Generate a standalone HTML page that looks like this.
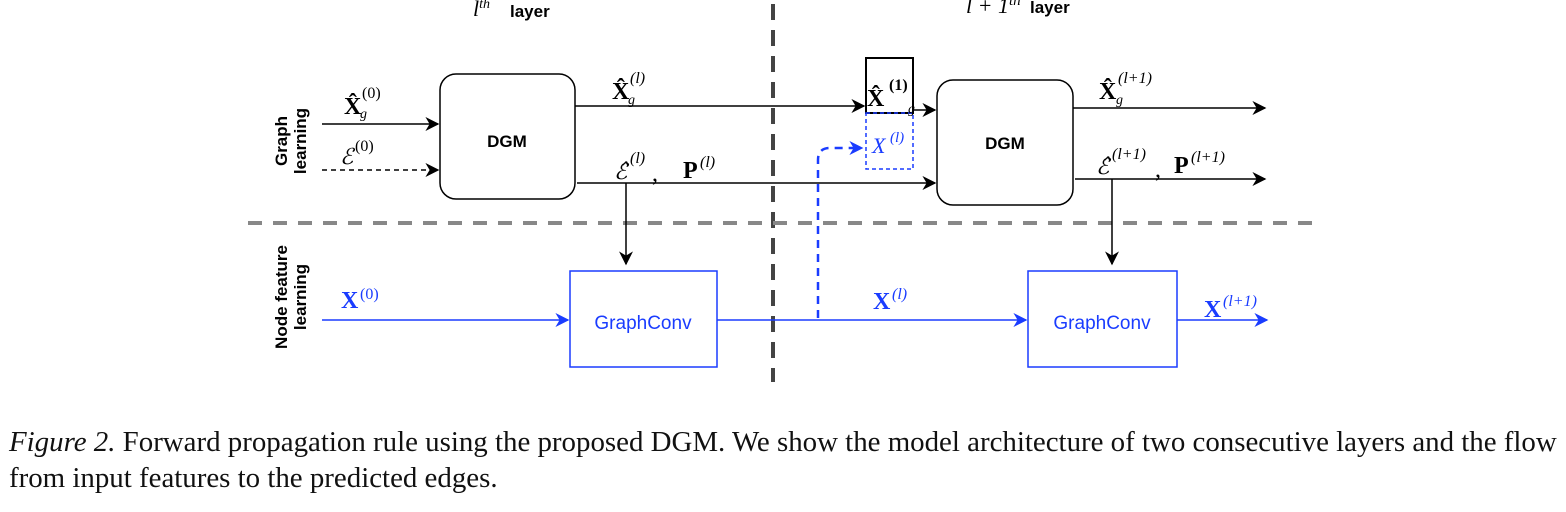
<!DOCTYPE html>
<html><head><meta charset="utf-8"><style>
body{margin:0;background:#fff;width:1566px;height:512px;overflow:hidden}
.cap{position:absolute;left:9px;top:424px;font-family:"Liberation Serif",serif;font-size:28.9px;line-height:36px;color:#111;white-space:nowrap}
svg text{font-family:"Liberation Serif",serif}
.s{font-family:"Liberation Sans",sans-serif;font-weight:bold}
</style></head><body>
<svg width="1566" height="420" style="position:absolute;left:0;top:0" xmlns="http://www.w3.org/2000/svg">
<defs>
<marker id="A" viewBox="0 0 10 10" refX="9" refY="5" markerWidth="14" markerHeight="14" orient="auto" markerUnits="userSpaceOnUse"><path d="M0,0 L10,5 L0,10 L3,5z" fill="#000"/></marker>
<marker id="AB" viewBox="0 0 10 10" refX="9" refY="5" markerWidth="14" markerHeight="14" orient="auto" markerUnits="userSpaceOnUse"><path d="M0,0 L10,5 L0,10 L3,5z" fill="#1a3cff"/></marker>
</defs>
<line x1="773" y1="4" x2="773" y2="382" stroke="#444" stroke-width="4" stroke-dasharray="16,10"/>
<line x1="248" y1="223" x2="1318" y2="223" stroke="#888" stroke-width="4" stroke-dasharray="14,11"/>
<rect x="440" y="74" width="135" height="125" rx="16" fill="#fff" stroke="#000" stroke-width="1.5"/>
<rect x="937" y="80" width="136" height="125" rx="16" fill="#fff" stroke="#000" stroke-width="1.5"/>
<text x="507" y="147" class="s" font-size="17" text-anchor="middle">DGM</text>
<text x="1005" y="149" class="s" font-size="17" text-anchor="middle">DGM</text>
<g stroke="#000" stroke-width="1.5" fill="none">
<line x1="322" y1="124" x2="438" y2="124" marker-end="url(#A)"/>
<line x1="322" y1="170" x2="438" y2="170" stroke-dasharray="5,4" marker-end="url(#A)"/>
<line x1="575" y1="106" x2="864" y2="106" marker-end="url(#A)"/>
<line x1="577" y1="183" x2="935" y2="183" marker-end="url(#A)"/>
<line x1="913" y1="110" x2="935" y2="110" marker-end="url(#A)"/>
<line x1="1073" y1="108" x2="1265" y2="108" marker-end="url(#A)"/>
<line x1="1075" y1="179" x2="1265" y2="179" marker-end="url(#A)"/>
<line x1="626" y1="183" x2="626" y2="264" marker-end="url(#A)"/>
<line x1="1112" y1="179" x2="1112" y2="264" marker-end="url(#A)"/>
</g>
<rect x="866" y="58" width="47" height="55" fill="#fff" stroke="#000" stroke-width="2"/>
<rect x="866" y="113" width="47" height="56" fill="none" stroke="#1a3cff" stroke-width="1.5" stroke-dasharray="4,3"/>
<g stroke="#1a3cff" stroke-width="1.5" fill="none">
<rect x="570" y="271" width="147" height="96"/>
<rect x="1028" y="271" width="149" height="96"/>
<line x1="322" y1="320" x2="568" y2="320" marker-end="url(#AB)"/>
<line x1="717" y1="320" x2="1026" y2="320" marker-end="url(#AB)"/>
<line x1="1177" y1="320" x2="1267" y2="320" marker-end="url(#AB)"/>
<path d="M818,318 L818,160 Q818,148 830,148 L862,148" stroke-width="2.5" stroke-dasharray="8,6" marker-end="url(#AB)"/>
</g>
<text x="643" y="329" font-size="19" fill="#1a3cff" text-anchor="middle" style="font-family:'Liberation Sans',sans-serif">GraphConv</text>
<text x="1102" y="329" font-size="19" fill="#1a3cff" text-anchor="middle" style="font-family:'Liberation Sans',sans-serif">GraphConv</text>
<text transform="translate(287,141) rotate(-90)" class="s" font-size="17" text-anchor="middle">Graph</text>
<text transform="translate(306,141) rotate(-90)" class="s" font-size="17" text-anchor="middle">learning</text>
<text transform="translate(287,297) rotate(-90)" class="s" font-size="17" text-anchor="middle">Node feature</text>
<text transform="translate(306,297) rotate(-90)" class="s" font-size="17" text-anchor="middle">learning</text>
<text x="473" y="16" font-size="22" font-style="italic">l<tspan font-size="14" dy="-8">th</tspan></text>
<text x="510" y="17" class="s" font-size="17">layer</text>
<text x="966" y="13" font-size="22" font-style="italic">l + 1<tspan font-size="15" dy="-8">th</tspan></text>
<text x="1030" y="13" class="s" font-size="17">layer</text>
<g font-size="24" font-weight="bold">
<text x="344" y="114">X̂</text><text x="362" y="98" font-size="16" font-weight="normal">(0)</text><text x="360" y="118" font-size="14" font-style="italic" font-weight="normal">g</text>
<text x="340" y="164" font-weight="normal" font-style="italic" font-size="22">ℰ</text><text x="355" y="151" font-size="16" font-weight="normal">(0)</text>
<text x="612" y="99">X̂</text><text x="630" y="83" font-size="16" font-weight="normal" font-style="italic">(l)</text><text x="628" y="104" font-size="14" font-style="italic" font-weight="normal">g</text>
<text x="614" y="179" font-weight="normal" font-style="italic" font-size="22">ℰ̂</text><text x="630" y="163" font-size="16" font-weight="normal" font-style="italic">(l)</text><text x="652" y="181" font-weight="normal">,</text>
<text x="683" y="178">P</text><text x="700" y="167" font-size="16" font-weight="normal" font-style="italic">(l)</text>
<text x="867" y="106">X̂</text><text x="889" y="90" font-size="16">(1)</text><text x="908" y="113" font-size="14" font-style="italic" font-weight="normal">g</text>
<text x="872" y="153" font-size="22" font-weight="normal" font-style="italic" fill="#1a3cff">X</text><text x="890" y="142" font-size="15" font-weight="normal" font-style="italic" fill="#1a3cff">(l)</text>
<text x="1099" y="99">X̂</text><text x="1118" y="83" font-size="16" font-weight="normal" font-style="italic">(l+1)</text><text x="1116" y="104" font-size="14" font-style="italic" font-weight="normal">g</text>
<text x="1096" y="174" font-weight="normal" font-style="italic" font-size="22">ℰ̂</text><text x="1112" y="159" font-size="16" font-weight="normal" font-style="italic">(l+1)</text><text x="1155" y="177" font-weight="normal">,</text>
<text x="1174" y="173">P</text><text x="1191" y="162" font-size="16" font-weight="normal" font-style="italic">(l+1)</text>
<g fill="#1a3cff"><text x="341" y="308">X</text><text x="360" y="299" font-size="16" font-weight="normal">(0)</text>
<text x="873" y="309">X</text><text x="892" y="299" font-size="16" font-weight="normal" font-style="italic">(l)</text>
<text x="1204" y="317">X</text><text x="1223" y="306" font-size="16" font-weight="normal" font-style="italic">(l+1)</text></g>
</g>
</svg>
<div class="cap"><i>Figure 2.</i> Forward propagation rule using the proposed DGM. We show the model architecture of two consecutive layers and the flow<br>from input features to the predicted edges.</div>
</body></html>
